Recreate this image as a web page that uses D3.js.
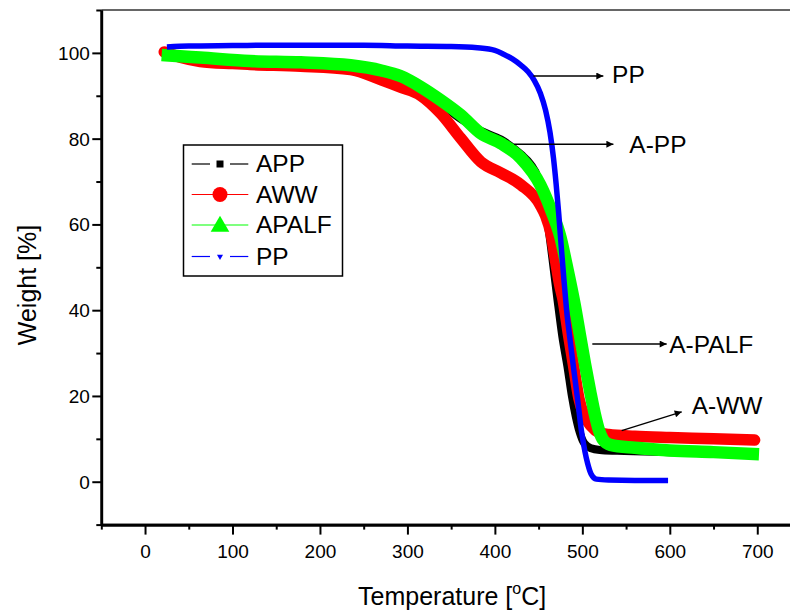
<!DOCTYPE html>
<html>
<head>
<meta charset="utf-8">
<script src="https://cdn.jsdelivr.net/npm/d3@7"></script>
<style>
  html, body { margin: 0; padding: 0; background: #fff; }
  svg { display: block; font-family: "Liberation Sans", Arial, sans-serif; }
</style>
</head>
<body>
<svg id="chart" width="790" height="612"></svg>
<script>
// TGA curves: temperature (°C) vs. remaining weight (%)
const appData = [
  [20, 99.4], [63, 98.8], [120, 98.0], [178, 97.6], [235, 96.9], [270, 95.6],
  [292, 94.2], [315, 91.6], [338, 88.2], [361, 84.6], [384, 81.8], [407, 79.8],
  [430, 76.3], [441, 74.0], [449, 71.0], [455, 66.5], [462, 58.0], [467, 50.0],
  [471.6, 42.4], [477, 34.0], [483, 26.8], [488, 20.0], [492.5, 15.2], [497, 11.5],
  [502, 9.0], [510, 7.8], [520, 7.4], [540, 7.2], [600, 6.9], [650, 6.7], [698, 6.4]
];
const awwData = [
  [22, 100.2], [40, 99.0], [63, 98.0], [100, 97.5], [120, 97.3], [178, 96.9],
  [235, 96.1], [270, 93.7], [292, 92.0], [315, 90.1], [338, 85.9], [361, 80.1],
  [384, 74.6], [407, 72.0], [430, 69.2], [452, 64.5], [458, 62.0], [464, 58.0],
  [469, 52.0], [474, 46.0], [478, 42.4], [484, 34.5], [490, 27.0], [496, 19.5],
  [502, 15.5], [510, 13.0], [519, 11.5], [530, 11.0], [560, 10.6], [600, 10.3],
  [650, 10.0], [697, 9.7]
];
const apalfData = [
  [19, 99.5], [40, 99.2], [63, 98.9], [120, 98.1], [178, 97.8], [235, 97.1],
  [270, 95.9], [292, 94.6], [315, 92.1], [338, 89.0], [361, 85.5], [384, 81.2],
  [407, 78.9], [430, 75.4], [452, 69.2], [464, 63.5], [475, 57.0], [482, 50.5],
  [491, 41.5], [497, 34.5], [503, 27.5], [509, 21.0], [514, 16.0], [519, 12.0],
  [524, 9.7], [532, 8.6], [560, 7.9], [600, 7.3], [650, 6.9], [702, 6.4]
];
const ppData = [
  [25, 101.4], [50, 101.6], [100, 101.7], [150, 101.8], [200, 101.8], [250, 101.8],
  [300, 101.6], [350, 101.5], [380, 101.2], [400, 100.6], [410, 99.7], [420, 98.6],
  [430, 97.1], [438, 95.6], [445, 93.6], [452, 90.6], [458, 86.6], [463, 81.5],
  [467, 75.5], [470, 69.5], [473, 62.5], [476, 54.5], [479, 47.0], [482, 40.0],
  [486, 33.0], [490, 26.5], [495, 18.5], [499, 11.8], [503, 7.0], [506, 4.3],
  [510, 1.8], [516, 0.6], [530, 0.4], [560, 0.3], [598, 0.3]
];

const seriesNames = ["APP", "AWW", "APALF", "PP"];
const seriesColors = ["#000000", "#ff0000", "#00ff00", "#0000ff"];
const seriesWidths = [8, 11.5, 12.5, 5.5];
const seriesData = [appData, awwData, apalfData, ppData];

const xMajorTicks = [0, 100, 200, 300, 400, 500, 600, 700];
const xMinorTicks = [-50, 50, 150, 250, 350, 450, 550, 650, 750];
const yMajorTicks = [0, 20, 40, 60, 80, 100];
const yMinorTicks = [-10, 10, 30, 50, 70, 90, 110];

// Callout labels: arrow start/end and label anchor, in data units
const annotations = [
  { text: "PP",     from: [444, 94.6], to: [524, 94.6], at: [534, 92.9] },
  { text: "A-PP",   from: [422, 78.7], to: [535.5, 78.7], at: [553.7, 76.6] },
  { text: "A-PALF", from: [511.4, 32.1], to: [596.4, 32.1], at: [599.4, 30.1] },
  { text: "A-WW",   from: [545, 11.9], to: [613.6, 16.3], at: [625, 15.9] }
];

(function draw() {
  const svg = d3.select("#chart");
  const plotLeft = 101.3, plotRight = 801, plotTop = 10, plotBottom = 524.6;

  const x = d3.scaleLinear().domain([-50, 750]).range([plotLeft, plotRight]);
  const y = d3.scaleLinear().domain([-10, 110]).range([plotBottom, plotTop]);

  svg.append("rect").attr("width", 790).attr("height", 612).attr("fill", "#fff");

  // Top frame line
  svg.append("line")
    .attr("x1", plotLeft).attr("x2", plotRight).attr("y1", plotTop).attr("y2", plotTop)
    .attr("stroke", "#333").attr("stroke-width", 1.3);

  // Curves
  const line = d3.line()
    .x(d => x(d[0])).y(d => y(d[1]))
    .curve(d3.curveMonotoneX);

  const curves = svg.append("g");
  seriesData.forEach((data, i) => {
    curves.append("path")
      .datum(data)
      .attr("d", line)
      .attr("fill", "none")
      .attr("stroke", seriesColors[i])
      .attr("stroke-width", seriesWidths[i])
      .attr("stroke-linejoin", "round")
      .attr("stroke-linecap", i === 1 ? "round" : "butt");
  });

  // Axes
  function styleAxis(g, w) {
    g.select(".domain").attr("stroke", "#000").attr("stroke-width", w);
    g.selectAll(".tick line").attr("stroke", "#000").attr("stroke-width", 2);
  }

  const xAxisMinor = svg.append("g").attr("transform", `translate(0,${plotBottom})`)
    .call(d3.axisBottom(x).tickValues(xMinorTicks).tickSize(5).tickSizeOuter(0).tickFormat(""));
  styleAxis(xAxisMinor, 2.6);
  const xAxis = svg.append("g").attr("transform", `translate(0,${plotBottom})`)
    .call(d3.axisBottom(x).tickValues(xMajorTicks).tickSize(10).tickSizeOuter(0));
  styleAxis(xAxis, 2.6);
  xAxis.selectAll(".tick text")
    .attr("y", 33.7).attr("dy", 0)
    .attr("font-size", 19).attr("fill", "#000")
    .attr("font-family", "Liberation Sans, Arial, sans-serif");

  const yAxisMinor = svg.append("g").attr("transform", `translate(${plotLeft},0)`)
    .call(d3.axisLeft(y).tickValues(yMinorTicks).tickSize(5).tickSizeOuter(0).tickFormat(""));
  styleAxis(yAxisMinor, 2.6);
  const yAxis = svg.append("g").attr("transform", `translate(${plotLeft},0)`)
    .call(d3.axisLeft(y).tickValues(yMajorTicks).tickSize(9).tickSizeOuter(0));
  styleAxis(yAxis, 2.6);
  yAxis.selectAll(".tick text")
    .attr("x", -11.5).attr("dy", "0.34em")
    .attr("font-size", 19).attr("fill", "#000")
    .attr("font-family", "Liberation Sans, Arial, sans-serif");

  // Axis titles
  const xt = svg.append("text")
    .attr("x", (plotLeft + plotRight) / 2 + 1).attr("y", 605)
    .attr("text-anchor", "middle").attr("font-size", 25).attr("fill", "#000");
  xt.append("tspan").text("Temperature [");
  xt.append("tspan").attr("font-size", 16).attr("dy", -11).text("o");
  xt.append("tspan").attr("dy", 11).text("C]");

  svg.append("text")
    .attr("transform", "translate(35.5,285) rotate(-90)")
    .attr("text-anchor", "middle").attr("font-size", 25).attr("fill", "#000")
    .text("Weight [%]");

  // Callouts with arrows
  svg.append("defs").append("marker")
    .attr("id", "arrowhead")
    .attr("viewBox", "0 0 10 10").attr("refX", 10).attr("refY", 5)
    .attr("markerWidth", 10).attr("markerHeight", 7)
    .attr("markerUnits", "userSpaceOnUse")
    .attr("orient", "auto")
    .append("path").attr("d", "M0,0 L10,5 L0,10 Z").attr("fill", "#000");

  const ann = svg.append("g");
  annotations.forEach(a => {
    ann.append("line")
      .attr("x1", x(a.from[0])).attr("y1", y(a.from[1]))
      .attr("x2", x(a.to[0])).attr("y2", y(a.to[1]))
      .attr("stroke", "#000").attr("stroke-width", 1.4)
      .attr("marker-end", "url(#arrowhead)");
    ann.append("text")
      .attr("x", x(a.at[0])).attr("y", y(a.at[1]))
      .attr("font-size", 24.5).attr("fill", "#000")
      .text(a.text);
  });

  // Legend
  const legend = svg.append("g");
  legend.append("rect")
    .attr("x", 183.5).attr("y", 145).attr("width", 159).attr("height", 131)
    .attr("fill", "#fff").attr("stroke", "#000").attr("stroke-width", 1.5);

  const rowY = [164, 194.5, 225, 256.5];
  const symbolTypes = [d3.symbolSquare, d3.symbolCircle, d3.symbolTriangle, d3.symbolTriangle];
  const symbolSizes = [49, 177, 150, 16];
  const lineGaps = [10, 0, 0, 10];

  seriesNames.forEach((name, i) => {
    const g = legend.append("g").attr("transform", `translate(0,${rowY[i]})`);
    if (lineGaps[i] > 0) {
      g.append("line").attr("x1", 191.7).attr("x2", 220 - lineGaps[i]).attr("y1", 0).attr("y2", 0)
        .attr("stroke", seriesColors[i]).attr("stroke-width", 1.2);
      g.append("line").attr("x1", 220 + lineGaps[i]).attr("x2", 248.3).attr("y1", 0).attr("y2", 0)
        .attr("stroke", seriesColors[i]).attr("stroke-width", 1.2);
    } else {
      g.append("line").attr("x1", 191.7).attr("x2", 248.3).attr("y1", 0).attr("y2", 0)
        .attr("stroke", seriesColors[i]).attr("stroke-width", 1.2);
    }
    const rot = i === 3 ? " rotate(180)" : "";
    const dy = i === 2 ? 1.5 : 0;
    g.append("path")
      .attr("d", d3.symbol().type(symbolTypes[i]).size(symbolSizes[i])())
      .attr("transform", `translate(220,${dy})${rot}`)
      .attr("fill", seriesColors[i]);
    g.append("text")
      .attr("x", 256).attr("y", 8.3)
      .attr("font-size", 24.5).attr("fill", "#000")
      .text(name);
  });
})();
</script>
</body>
</html>
